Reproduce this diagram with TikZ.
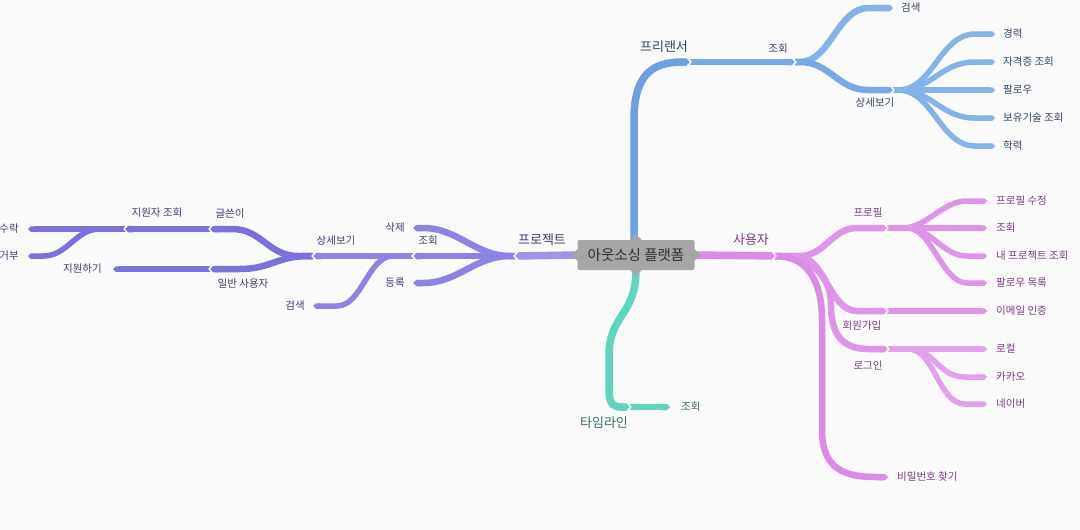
\documentclass[tikz,border=0pt]{standalone}
\usepackage{fontspec}
\setmainfont{Noto Sans CJK KR}
\usepackage{tikz}
\usetikzlibrary{calc,arrows.meta}
\definecolor{paper}{HTML}{FAFAFA}
\definecolor{boxgray}{HTML}{A6A6A6}
\definecolor{rootink}{HTML}{2F2F2F}
\definecolor{bluetrunk}{HTML}{6E9FE2}
\definecolor{bluemid}{HTML}{78A8E6}
\definecolor{blueleaf}{HTML}{86B2EA}
\definecolor{blueink}{HTML}{33465F}
\definecolor{purtrunk}{HTML}{9D94E8}
\definecolor{purmid}{HTML}{8C83E3}
\definecolor{purleaf}{HTML}{7B71DD}
\definecolor{purink}{HTML}{3E3C74}
\definecolor{pinktrunk}{HTML}{DA8BE5}
\definecolor{pinkmid}{HTML}{DD95E8}
\definecolor{pinkleaf}{HTML}{E0A0EA}
\definecolor{pinkink}{HTML}{7B3C84}
\definecolor{tealline}{HTML}{5FD5BF}
\definecolor{tealink}{HTML}{3A6B66}
\tikzset{
  twigr/.style n args={3}{to path={-- ++(#1,0) .. controls +(#2,0) and +(-#2,0) .. ($(\tikztotarget)+(-#3,0)$) -- (\tikztotarget)}},
  twigl/.style n args={3}{to path={-- ++(-#1,0) .. controls +(-#2,0) and +(#2,0) .. ($(\tikztotarget)+(#3,0)$) -- (\tikztotarget)}},
  trunk/.style={line width=7.5pt, -{Triangle Cap[]}},
  limb/.style={line width=6.5pt, -{Triangle Cap[]}},
  leaf/.style={line width=5.5pt, -{Triangle Cap[]}},
  lbl/.style={font=\fontsize{10.5}{12}\selectfont, inner sep=1pt},
  big/.style={font=\fontsize{13}{15}\selectfont, inner sep=1pt},
  notchr/.pic={\draw[paper, line width=1.3pt, line cap=round] (-3,-4.5) -- (1,0) -- (-3,4.5);},
  notchl/.pic={\draw[paper, line width=1.3pt, line cap=round] (3,-4.5) -- (-1,0) -- (3,4.5);}
}

\begin{document}
\begin{tikzpicture}[x=1pt,y=-1pt]
\fill[paper] (0,0) rectangle (1080,530);
\useasboundingbox (0,0) rectangle (1080,530);
\node[fill=boxgray, rounded corners=2pt, minimum width=117pt, minimum height=30pt, text=rootink, font=\fontsize{14.5}{16}\selectfont] (root) at (636,255) {아웃소싱 플랫폼};

\coordinate (fr) at (690,62);
\coordinate (frq) at (795,62);
\coordinate (frs) at (893,8);
\coordinate (frd) at (893,90);
\coordinate (prj) at (515,256);
\coordinate (prjdel) at (413,228);
\coordinate (prjq) at (413,256);
\coordinate (prjreg) at (413,283);
\coordinate (prjd) at (313,256);
\coordinate (prjs) at (313,306);
\coordinate (wr) at (210,229);
\coordinate (gen) at (210,269);
\coordinate (app) at (125,229);
\coordinate (acc) at (28,229);
\coordinate (rej) at (28,256);
\coordinate (apply) at (113,269);
\coordinate (usr) at (775,256);
\coordinate (prof) at (887,228);
\coordinate (join) at (887,311);
\coordinate (email) at (987,311);
\coordinate (login) at (888,349);
\coordinate (pw) at (888,477);
\coordinate (tl) at (630,407);
\coordinate (tlq) at (670,407);

\draw[trunk, bluetrunk] ($(root.north)+(-2,0)$) -- ++(0,-120) .. controls +(0,-45) and +(-38,0) .. (fr);
\draw[limb, bluemid] (fr) -- (frq);
\draw[limb, blueleaf] (frq) to[twigr={5}{30}{25}] (frs);
\draw[limb, bluemid] (frq) to[twigr={5}{30}{25}] (frd);
\foreach \y/\n/\t in {34/fcar/경력, 62/fcert/자격증 조회, 90/ffol/팔로우, 118/fskill/보유기술 조회, 146/fedu/학력}{
  \coordinate (\n) at (995,\y);
  \draw[leaf, blueleaf] (frd) to[twigr={5}{35}{20}] (\n);
  \node[lbl, text=blueink, anchor=west] (\n-t) at ($(\n)+(7,0)$) {\t};
}

\draw[trunk, purtrunk] (root.west) -- (prj);
\draw[limb, purmid] (prj) to[twigl={5}{35}{10}] (prjdel);
\draw[limb, purmid] (prj) -- (prjq);
\draw[limb, purmid] (prj) to[twigl={5}{35}{10}] (prjreg);
\draw[limb, purmid] (prjq) -- (prjd);
\draw[leaf, purmid] (prjq) to[twigl={20}{25}{24}] (prjs);
\draw[limb, purleaf] (prjd) to[twigl={15}{30}{22}] (wr);
\draw[limb, purleaf] (prjd) to[twigl={5}{30}{30}] (gen);
\draw[limb, purleaf] (wr) -- (app);
\draw[leaf, purleaf] (app) -- (acc);
\draw[leaf, purleaf] (app) to[twigl={25}{25}{15}] (rej);
\draw[leaf, purleaf] (gen) -- (apply);

\draw[trunk, pinktrunk] (root.east) -- (usr);
\draw[limb, pinkmid] (usr) to[twigr={25}{25}{30}] (prof);
\draw[limb, pinkmid] (usr) to[twigr={22}{28}{30}] (join);
\draw[limb, pinkmid] (usr) .. controls +(35,0) and +(0,-30) .. (831,305) .. controls +(0,30) and +(-25,0) .. ($(login)+(-20,0)$) -- (login);
\draw[limb, pinktrunk] (usr) .. controls +(35,0) and +(0,-35) .. (822,320) -- (822,430) .. controls +(0,40) and +(-30,0) .. ($(pw)+(-12,0)$) -- (pw);
\draw[leaf, pinkmid] (join) -- (email);
\foreach \y/\n/\t/\l in {201/pedit/프로필 수정/15, 228/pview/조회/15, 256/pmine/내 프로젝트 조회/20, 283/pfol/팔로우 목록/20}{
  \coordinate (\n) at (987,\y);
  \draw[leaf, pinkmid] (prof) to[twigr={\l}{25}{20}] (\n);
  \node[lbl, text=pinkink, anchor=west] (\n-t) at ($(\n)+(8,0)$) {\t};
}
\foreach \y/\n/\t/\l in {349/plocal/로컬/20, 377/pkakao/카카오/20, 404/pnaver/네이버/20}{
  \coordinate (\n) at (987,\y);
  \draw[leaf, pinkleaf] (login) to[twigr={\l}{27}{22}] (\n);
  \node[lbl, text=pinkink, anchor=west] (\n-t) at ($(\n)+(8,0)$) {\t};
}

\draw[trunk, tealline] (root.south) .. controls +(0,45) and +(0,-40) .. (609,355) -- (609,388) .. controls +(0,19) and +(-15,0) .. (tl);
\draw[limb, tealline] (tl) -- (tlq);

\foreach \p in {fr,frq,frd,usr,prof,join,login,tl}
  \pic at (\p) {notchr};
\foreach \p in {prj,prjq,prjd,wr,app,gen}
  \pic at (\p) {notchl};
\fill[boxgray] ($(root.north)+(-6,0.5)$) -- ($(root.north)+(0,-6)$) -- ($(root.north)+(6,0.5)$) -- cycle;
\fill[boxgray] ($(root.south)+(-6,-0.5)$) -- ($(root.south)+(0,6)$) -- ($(root.south)+(6,-0.5)$) -- cycle;
\fill[boxgray] ($(root.west)+(0.5,-6)$) -- ($(root.west)+(-6,0)$) -- ($(root.west)+(0.5,6)$) -- cycle;
\fill[boxgray] ($(root.east)+(-0.5,-6)$) -- ($(root.east)+(6,0)$) -- ($(root.east)+(-0.5,6)$) -- cycle;

\node[big, text=blueink] (frl) at (664,47) {프리랜서};
\node[lbl, text=blueink] (frql) at (778,49) {조회};
\node[lbl, text=blueink, anchor=west] (frsl) at ($(frs)+(7,0)$) {검색};
\node[lbl, text=blueink] (frdl) at (875,103) {상세보기};

\node[big, text=purink] (prjl) at (542,240) {프로젝트};
\node[lbl, text=purink, anchor=east] (prjdell) at ($(prjdel)+(-7,0)$) {삭제};
\node[lbl, text=purink] (prjql) at (428,241) {조회};
\node[lbl, text=purink, anchor=east] (prjregl) at ($(prjreg)+(-7,0)$) {등록};
\node[lbl, text=purink] (prjdl) at (336,241) {상세보기};
\node[lbl, text=purink, anchor=east] (prjsl) at ($(prjs)+(-7,0)$) {검색};
\node[lbl, text=purink] (wrl) at (230,214) {글쓴이};
\node[lbl, text=purink] (genl) at (243,284) {일반 사용자};
\node[lbl, text=purink] (appl) at (157,213) {지원자 조회};
\node[lbl, text=purink, anchor=east] (accl) at ($(acc)+(-8,0)$) {수락};
\node[lbl, text=purink, anchor=east] (rejl) at ($(rej)+(-8,0)$) {거부};
\node[lbl, text=purink, anchor=east] (applyl) at ($(apply)+(-10,0)$) {지원하기};

\node[big, text=pinkink] (usrl) at (751,240) {사용자};
\node[lbl, text=pinkink] (profl) at (868,213) {프로필};
\node[lbl, text=pinkink] (joinl) at (862,326) {회원가입};
\node[lbl, text=pinkink, anchor=west] (emaill) at ($(email)+(8,0)$) {이메일 인증};
\node[lbl, text=pinkink] (loginl) at (868,365) {로그인};
\node[lbl, text=pinkink, anchor=west] (pwl) at ($(pw)+(8,0)$) {비밀번호 찾기};

\node[big, text=tealink] (tll) at (604,423) {타임라인};
\node[lbl, text=tealink, anchor=west] (tlql) at ($(tlq)+(10,0)$) {조회};
\end{tikzpicture}
\end{document}
